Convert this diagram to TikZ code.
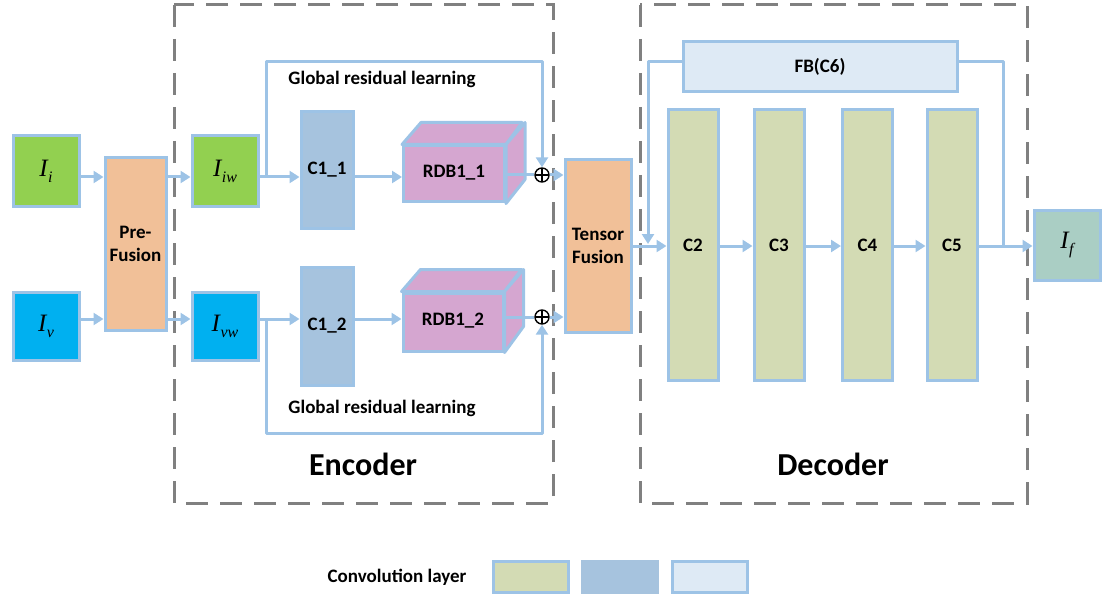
\documentclass[tikz,border=0pt]{standalone}
\usepackage{fontspec}
\setmainfont{Carlito}
\newfontfamily\tnr{Liberation Serif}
\usetikzlibrary{arrows.meta,calc}
\definecolor{edge}{RGB}{157,195,230}
\definecolor{dashgray}{RGB}{128,128,128}
\definecolor{ingreen}{RGB}{146,208,80}
\definecolor{inblue}{RGB}{0,176,240}
\definecolor{peach}{RGB}{241,192,152}
\definecolor{rdbpink}{RGB}{213,166,208}
\definecolor{convgreen}{RGB}{211,219,180}
\definecolor{convblue}{RGB}{166,195,222}
\definecolor{convlight}{RGB}{222,234,245}
\definecolor{outteal}{RGB}{170,206,196}
\newcommand\symI[1]{{\tnr\mdseries\itshape\fontsize{25}{25}\selectfont I\kern0.5pt\raisebox{-6pt}{\fontsize{16}{16}\selectfont #1}}}
\tikzset{
  bx/.style={draw=edge, line width=3pt, inner sep=0pt, font=\bfseries\fontsize{19}{23}\selectfont, align=center},
  arr/.style={draw=edge, line width=3pt, -{Triangle[width=12pt,length=10pt]}},
  ln/.style={draw=edge, line width=3pt},
  grp/.style={draw=dashgray, line width=3pt, dash pattern=on 22pt off 12pt},
  lbl/.style={font=\bfseries\fontsize{19}{23}\selectfont},
  osum/.style={circle, draw=black, line width=1.4pt, minimum size=14pt, inner sep=0pt,
    path picture={\draw[black, line width=1.4pt] (path picture bounding box.north) -- (path picture bounding box.south) (path picture bounding box.west) -- (path picture bounding box.east);}},
}
\begin{document}
\begin{tikzpicture}[x=1pt,y=-1pt]
\useasboundingbox (0,0) rectangle (1105,596);
% groups
\draw[grp] (174,5) rectangle (553,503);
\draw[grp] (640,5) rectangle (1027,503);
\node[font=\bfseries\fontsize{32}{34}\selectfont] (enc) at (363,464) {Encoder};
\node[font=\bfseries\fontsize{32}{34}\selectfont] (dec) at (833,464) {Decoder};
% rows
\coordinate (r1) at (0,177);
\coordinate (r2) at (0,319);
\coordinate (r3) at (0,246);
% inputs
\node[bx, fill=ingreen, minimum width=66pt, minimum height=71pt] (Ii) at (46,171) {\symI{i}};
\node[bx, fill=inblue, minimum width=66pt, minimum height=68pt] (Iv) at (46,326) {\symI{v}};
\node[bx, fill=peach, minimum width=61pt, minimum height=172pt] (Pre) at (135.5,244) {Pre-\\Fusion};
\node[bx, fill=ingreen, minimum width=66pt, minimum height=71pt] (Iiw) at (225,171) {\symI{iw}};
\node[bx, fill=inblue, minimum width=66pt, minimum height=68pt] (Ivw) at (225,326) {\symI{vw}};
\node[bx, fill=convblue, minimum width=52pt, minimum height=116pt] (C11) at (327,170) {C1\_1};
\node[bx, fill=convblue, minimum width=52pt, minimum height=118pt] (C12) at (327,326) {C1\_2};
% RDB cuboids
\node[bx, fill=rdbpink, minimum width=101pt, minimum height=56pt] (R1) at (454,174) {\raisebox{5pt}{RDB1\_1}};
\node[bx, fill=rdbpink, minimum width=100pt, minimum height=58pt] (R2) at (453,322) {\raisebox{5pt}{RDB1\_2}};
\foreach \r in {R1,R2}{
  \draw[draw=edge, line width=3pt, fill=rdbpink, line join=round] (\r.north west) -- ++(19,-22) -- ++(101,0) -- (\r.north east) -- cycle;
  \draw[draw=edge, line width=3pt, fill=rdbpink, line join=round] (\r.north east) -- ++(19,-22) -- ++(0,57) -- (\r.south east) -- cycle;
}
\node[osum] (p1) at (542,175) {};
\node[osum] (p2) at (542,317) {};
\node[bx, fill=peach, minimum width=66pt, minimum height=172pt] (TF) at (598,246) {Tensor\\Fusion};
% residual labels
\node[lbl] (g1) at (382,79) {Global residual learning};
\node[lbl] (g2) at (382,408) {Global residual learning};
% decoder
\node[bx, fill=convlight, minimum width=274pt, minimum height=50pt] (FB) at (820,67) {FB(C6)};
\node[bx, fill=convgreen, minimum width=50pt, minimum height=270pt] (C2) at (693,245) {C2};
\node[bx, fill=convgreen, minimum width=50pt, minimum height=270pt] (C3) at (779,245) {C3};
\node[bx, fill=convgreen, minimum width=50pt, minimum height=270pt] (C4) at (867.5,245) {C4};
\node[bx, fill=convgreen, minimum width=50pt, minimum height=270pt] (C5) at (952,245) {C5};
\node[bx, fill=outteal, minimum width=66pt, minimum height=70pt] (If) at (1067,245) {\symI{f}};
% connectors encoder
\draw[arr] (Ii.east |- r1) -- (Pre.west |- r1);
\draw[arr] (Iv.east |- r2) -- (Pre.west |- r2);
\draw[arr] (Pre.east |- r1) -- (Iiw.west |- r1);
\draw[arr] (Pre.east |- r2) -- (Ivw.west |- r2);
\draw[arr] (Iiw.east |- r1) -- (C11.west |- r1);
\draw[arr] (Ivw.east |- r2) -- (C12.west |- r2);
\draw[arr] (C11.east |- r1) -- (R1.west |- r1);
\draw[arr] (C12.east |- r2) -- (R2.west |- r2);
\draw[ln] (R1.east |- p1) -- (p1.west);
\draw[ln] (R2.east |- p2) -- (p2.west);
\draw[arr] (p1.east) -- (TF.west |- p1);
\draw[arr] (p2.east) -- (TF.west |- p2);
\coordinate (b1) at (266,177);
\coordinate (b2) at (266,319);
\coordinate (t1) at (266,62);
\coordinate (t2) at (266,433);
\draw[arr, line join=round] (b1) -- (t1) -| (p1.north);
\draw[arr, line join=round] (b2) -- (t2) -| (p2.south);
% connectors decoder
\draw[arr] (TF.east |- r3) -- (C2.west |- r3);
\draw[arr] (C2.east |- r3) -- (C3.west |- r3);
\draw[arr] (C3.east |- r3) -- (C4.west |- r3);
\draw[arr] (C4.east |- r3) -- (C5.west |- r3);
\draw[arr] (C5.east |- r3) -- (If.west |- r3);
\coordinate (fbin) at (648,244);
\coordinate (fbout) at (1003,246);
\draw[arr, line join=round] ([yshift=5pt]FB.west) -| (fbin);
\draw[ln, line join=round] ([yshift=5pt]FB.east) -| (fbout);
% legend
\node[font=\bfseries\fontsize{19}{22}\selectfont] (leg) at (397,577) {Convolution layer};
\node[bx, fill=convgreen, minimum width=75pt, minimum height=31pt] (L1) at (530.5,576.5) {};
\node[bx, draw=convblue, fill=convblue, minimum width=75pt, minimum height=31pt] (L2) at (619.5,576.5) {};
\node[bx, fill=convlight, minimum width=75pt, minimum height=31pt] (L3) at (709.5,576.5) {};
\end{tikzpicture}
\end{document}
